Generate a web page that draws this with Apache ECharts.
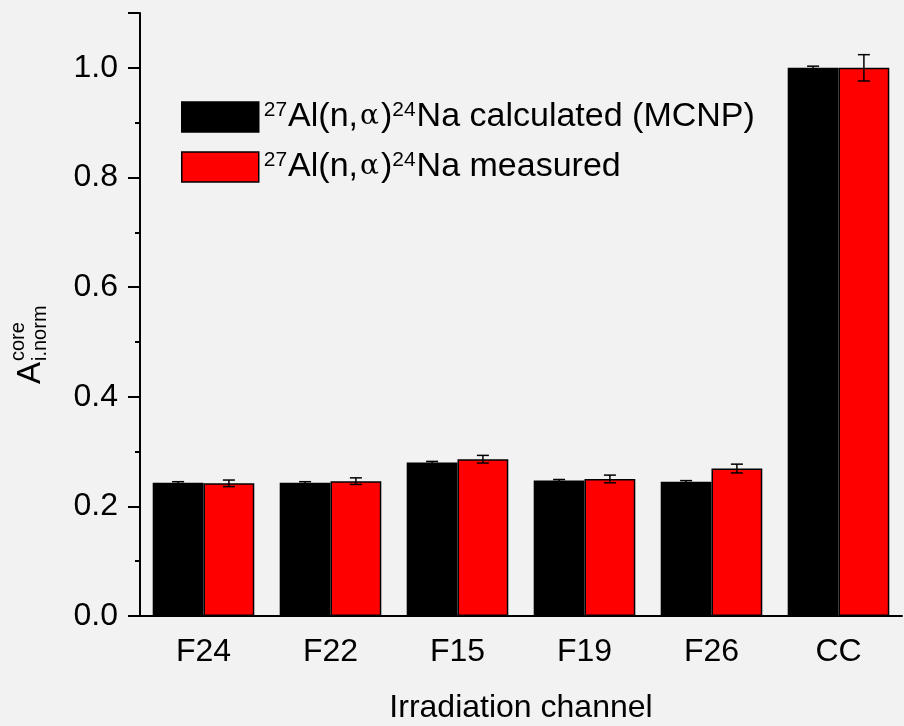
<!DOCTYPE html>
<html>
<head>
<meta charset="utf-8">
<script src="https://cdn.jsdelivr.net/npm/echarts@6/dist/echarts.min.js"></script>
<style>
  html, body { margin: 0; padding: 0; background: #f2f2f2; }
  #main { width: 904px; height: 726px; }
</style>
</head>
<body>
<div id="main"></div>
<script>
// channels and normalized activities
const channels = ['F24', 'F22', 'F15', 'F19', 'F26', 'CC'];
const calculated = [0.243, 0.243, 0.280, 0.247, 0.245, 1.0];
const calculatedErr = [0.002, 0.002, 0.002, 0.002, 0.002, 0.003];
const measured = [0.242, 0.246, 0.286, 0.250, 0.269, 1.0];
const measuredErr = [0.006, 0.006, 0.007, 0.007, 0.008, 0.024];

const nameCalc = 'calc';
const nameMeas = 'meas';
const FONT = 'Liberation Sans, Arial, sans-serif';

// error bar as [index, low, high]
const errData = (vals, errs) => vals.map((v, i) => [i, v - errs[i], v + errs[i]]);

function errorBar(side) {
  return function (params, api) {
    const idx = api.value(0);
    const lo = api.coord([idx, api.value(1)]);
    const hi = api.coord([idx, api.value(2)]);
    const band = api.size([1, 0])[0];
    const x = lo[0] + side * band * 0.2;
    const cap = 6;
    const style = { stroke: '#000', lineWidth: 1.5 };
    return {
      type: 'group',
      children: [
        { type: 'line', shape: { x1: x, y1: hi[1], x2: x, y2: lo[1] }, style: style },
        { type: 'line', shape: { x1: x - cap, y1: hi[1], x2: x + cap, y2: hi[1] }, style: style },
        { type: 'line', shape: { x1: x - cap, y1: lo[1], x2: x + cap, y2: lo[1] }, style: style }
      ]
    };
  };
}

const chart = echarts.init(document.getElementById('main'));

const option = {
  backgroundColor: '#f2f2f2',
  animation: false,
  textStyle: { fontFamily: FONT },
  grid: { left: 140, right: 2, top: 13, bottom: 110, outerBoundsMode: 'none' },
  legend: {
    left: 176,
    top: 95,
    orient: 'vertical',
    icon: 'rect',
    itemWidth: 77,
    itemHeight: 30,
    itemGap: 16,
    itemTextGap: 10,
    itemStyle: { borderColor: '#000', borderWidth: 1.5 },
    data: [nameCalc, nameMeas],
    formatter: function (name) {
      const tail = name === nameCalc ? ' calculated (MCNP)' : ' measured';
      return '{sup|27}{t|Al(n,}{g|α}{t|)}{sup|24}{t|Na' + tail + '}';
    },
    textStyle: {
      color: '#000',
      rich: {
        t: { fontSize: 34, fontFamily: FONT, color: '#000', lineHeight: 34 },
        g: { fontSize: 28, fontFamily: 'DejaVu Serif, serif', color: '#000', lineHeight: 34, padding: [0, 2, 0, 2] },
        sup: { fontSize: 21, fontFamily: FONT, color: '#000', lineHeight: 30, verticalAlign: 'top', padding: [0, 1, 0, 0] }
      }
    }
  },
  xAxis: [
    {
      type: 'category',
      data: channels,
      name: 'Irradiation channel',
      nameLocation: 'middle',
      nameGap: 76,
      nameTextStyle: { fontSize: 32, color: '#000', fontFamily: FONT },
      axisLine: { lineStyle: { color: '#000', width: 2 } },
      axisTick: { alignWithLabel: true, length: 10, lineStyle: { color: '#000', width: 2 } },
      axisLabel: { fontSize: 32, color: '#000', margin: 20, fontFamily: FONT }
    },
    {
      type: 'category',
      data: channels,
      position: 'bottom',
      axisLine: { show: false },
      axisTick: { alignWithLabel: false, length: 5, lineStyle: { color: '#000', width: 2 } },
      axisLabel: { show: false }
    }
  ],
  yAxis: {
    type: 'value',
    min: 0,
    max: 1.1,
    interval: 0.2,
    splitLine: { show: false },
    axisLine: { show: true, lineStyle: { color: '#000', width: 2 } },
    axisTick: { show: true, length: 12, lineStyle: { color: '#000', width: 2 } },
    minorTick: { show: true, splitNumber: 2, length: 5, lineStyle: { color: '#000', width: 2 } },
    axisLabel: {
      fontSize: 32,
      color: '#000',
      margin: 22,
      fontFamily: FONT,
      formatter: function (v) {
        return Math.abs(v / 0.2 - Math.round(v / 0.2)) < 1e-6 ? v.toFixed(1) : '';
      }
    }
  },
  graphic: [
    {
      type: 'group',
      x: 31,
      y: 384,
      rotation: Math.PI / 2,
      children: [
        { type: 'text', x: 0, y: 0, style: { text: 'A', fontSize: 33, fontFamily: FONT, fill: '#000', textAlign: 'left', textVerticalAlign: 'middle' } },
        { type: 'text', x: 23, y: -13, style: { text: 'core', fontSize: 20, fontFamily: FONT, fill: '#000', textAlign: 'left', textVerticalAlign: 'middle' } },
        { type: 'text', x: 23, y: 9, style: { text: 'i.norm', fontSize: 20, fontFamily: FONT, fill: '#000', textAlign: 'left', textVerticalAlign: 'middle' } }
      ]
    }
  ],
  series: [
    {
      name: nameCalc,
      type: 'bar',
      data: calculated,
      barWidth: '40%',
      barGap: '0%',
      itemStyle: { color: '#000000', borderColor: '#000', borderWidth: 1.5 }
    },
    {
      name: nameMeas,
      type: 'bar',
      data: measured,
      barWidth: '40%',
      barGap: '0%',
      itemStyle: { color: '#ff0000', borderColor: '#000', borderWidth: 1.5 }
    },
    {
      type: 'custom',
      renderItem: errorBar(-1),
      data: errData(calculated, calculatedErr),
      encode: { x: 0, y: [1, 2] },
      z: 10
    },
    {
      type: 'custom',
      renderItem: errorBar(1),
      data: errData(measured, measuredErr),
      encode: { x: 0, y: [1, 2] },
      z: 10
    }
  ]
};

chart.setOption(option);
</script>
</body>
</html>
